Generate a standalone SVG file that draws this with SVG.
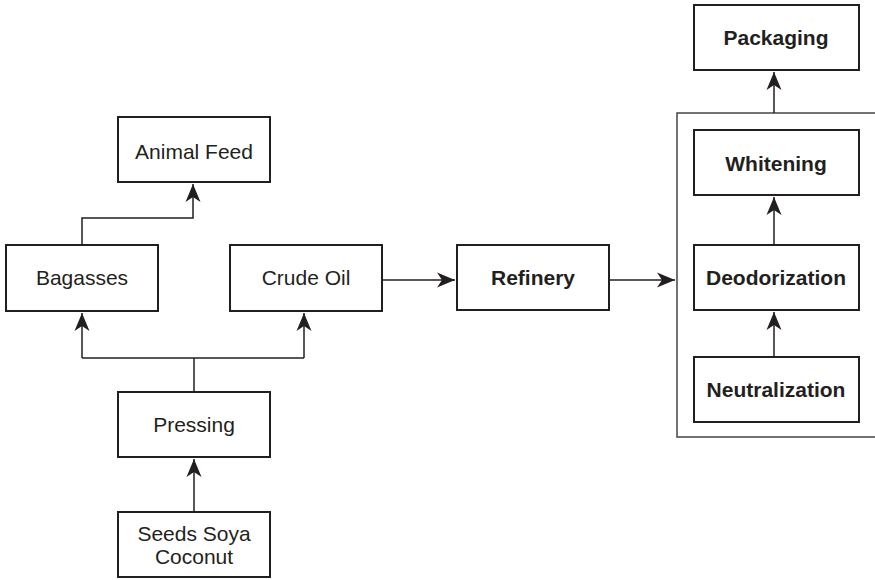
<svg xmlns="http://www.w3.org/2000/svg" width="875" height="580" viewBox="0 0 875 580">
  <style>
    .box { fill: #ffffff; stroke: #231f20; stroke-width: 2; }
    .lbl { font-family: "Liberation Sans", Arial, sans-serif; font-size: 21px; fill: #231f20; text-anchor: middle; }
    .bold { font-weight: bold; }
    .wire { fill: none; stroke: #231f20; stroke-width: 1.5; }
    .frame { fill: none; stroke: #444444; stroke-width: 1.5; }
  </style>
  <defs>
    <marker id="arrow" markerUnits="userSpaceOnUse" markerWidth="22" markerHeight="20" viewBox="-20 -10 22 20" refX="0" refY="0" orient="auto">
      <path d="M0,0 L-18,-7.5 L-13,0 L-18,7.5 Z" fill="#231f20"/>
    </marker>
  </defs>

  <rect width="875" height="580" fill="#ffffff"/>

  <!-- refining stage enclosure (open on the right) -->
  <path class="frame" d="M875,113 H677 V437 H875"/>

  <g id="connectors">
    <path class="wire" d="M82,245 V218 H193 V184" marker-end="url(#arrow)"/>
    <path class="wire" d="M194,392 V358"/>
    <path class="wire" d="M82,358 H304"/>
    <path class="wire" d="M82,358 V313" marker-end="url(#arrow)"/>
    <path class="wire" d="M304,358 V313" marker-end="url(#arrow)"/>
    <path class="wire" d="M194,512 V459" marker-end="url(#arrow)"/>
    <path class="wire" d="M382,280 H455" marker-end="url(#arrow)"/>
    <path class="wire" d="M609,280 H675" marker-end="url(#arrow)"/>
    <path class="wire" d="M774,357 V312" marker-end="url(#arrow)"/>
    <path class="wire" d="M774,245 V197" marker-end="url(#arrow)"/>
    <path class="wire" d="M774,113 V72" marker-end="url(#arrow)"/>
  </g>

  <g id="animal-feed">
    <rect class="box" x="118" y="117" width="152" height="65"/>
    <text class="lbl" x="194" y="159">Animal Feed</text>
  </g>
  <g id="bagasses">
    <rect class="box" x="6" y="245" width="152" height="66"/>
    <text class="lbl" x="82" y="285">Bagasses</text>
  </g>
  <g id="crude-oil">
    <rect class="box" x="230" y="245" width="152" height="66"/>
    <text class="lbl" x="306" y="285">Crude Oil</text>
  </g>
  <g id="pressing">
    <rect class="box" x="118" y="392" width="152" height="65"/>
    <text class="lbl" x="194" y="432">Pressing</text>
  </g>
  <g id="seeds">
    <rect class="box" x="118" y="512" width="152" height="65"/>
    <text class="lbl" x="194" y="541">Seeds Soya</text>
    <text class="lbl" x="194" y="564">Coconut</text>
  </g>
  <g id="refinery">
    <rect class="box" x="457" y="245" width="152" height="65"/>
    <text class="lbl bold" x="533" y="285">Refinery</text>
  </g>
  <g id="packaging">
    <rect class="box" x="694" y="5" width="165" height="65"/>
    <text class="lbl bold" x="776" y="45">Packaging</text>
  </g>
  <g id="whitening">
    <rect class="box" x="694" y="130" width="165" height="65"/>
    <text class="lbl bold" x="776" y="171">Whitening</text>
  </g>
  <g id="deodorization">
    <rect class="box" x="694" y="245" width="165" height="65"/>
    <text class="lbl bold" x="776" y="285">Deodorization</text>
  </g>
  <g id="neutralization">
    <rect class="box" x="694" y="357" width="165" height="65"/>
    <text class="lbl bold" x="776" y="397">Neutralization</text>
  </g>
</svg>
